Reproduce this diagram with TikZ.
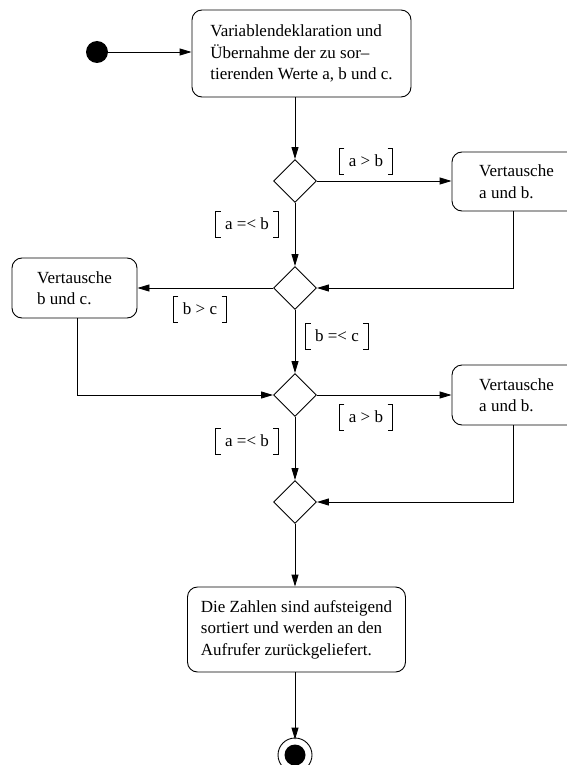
\documentclass[tikz,border=0pt]{standalone}
\usepackage{fontspec}
\setmainfont{Liberation Serif}
\usetikzlibrary{arrows.meta,shapes.geometric}
\begin{document}
\begin{tikzpicture}[x=1pt,y=-1pt,
  line width=0.9pt,
  every node/.style={font=\fontsize{17}{21.5}\selectfont},
  action/.style={draw,rounded corners=10pt,align=left,inner sep=0pt},
  decision/.style={draw,diamond,aspect=1,minimum width=43pt,minimum height=43pt,inner sep=0pt},
  guard/.style={inner xsep=9pt,inner ysep=0pt,minimum height=25pt,font=\fontsize{17}{20}\selectfont},
  arr/.style={-{Triangle[length=12pt,width=7pt]}}]
\useasboundingbox (0,0) rectangle (566,765);

% start and end
\node[circle,fill,inner sep=0pt,minimum size=22pt] (start) at (97,52) {};
\node[circle,draw,inner sep=0pt,minimum size=34pt] (end) at (295,755) {};
\fill (end) circle (10.5pt);

% actions
\node[action,minimum width=219pt,minimum height=87pt] (init) at (301.5,53.5)
  {Variablendeklaration und\\Übernahme der zu sor–\\tierenden Werte a, b und c.};
\node[action,minimum width=129pt,minimum height=59pt] (swapab1) at (516.5,181.5)
  {Vertausche\\a und b.};
\node[action,minimum width=125pt,minimum height=60pt] (swapbc) at (74.5,288)
  {Vertausche\\b und c.};
\node[action,minimum width=129pt,minimum height=60pt] (swapab2) at (516.5,395)
  {Vertausche\\a und b.};
\node[action,minimum width=218pt,minimum height=85pt] (done) at (296.5,629.5)
  {Die Zahlen sind aufsteigend\\sortiert und werden an den\\Aufrufer zurückgeliefert.};

% decisions
\node[decision] (d1) at (295,181) {};
\node[decision] (d2) at (295,288) {};
\node[decision] (d3) at (295,395) {};
\node[decision] (d4) at (295,502) {};

% guards
\node[guard] (g1) at (366,161) {a > b};
\node[guard] (g2) at (247,224) {a =< b};
\node[guard] (g3) at (200,309) {b > c};
\node[guard] (g4) at (337,336) {b =< c};
\node[guard] (g5) at (366,417) {a > b};
\node[guard] (g6) at (247,441) {a =< b};
\foreach \g in {g1,g2,g3,g4,g5,g6} {
  \draw[line width=0.7pt] ([xshift=5pt]\g.north west) -| (\g.south west) -- ++(5,0);
  \draw[line width=0.7pt] ([xshift=-5pt]\g.north east) -| (\g.south east) -- ++(-5,0);
}

% flows
\draw[arr] (start) -- (start -| init.west);
\draw[arr] (d1 |- init.south) -- (d1.north);
\draw[arr] (d1.east) -- (d1 -| swapab1.west);
\draw[arr] (d1.south) -- (d2.north);
\draw[arr] ([xshift=-3.5pt]swapab1.south) |- (d2.east);
\draw[arr] (d2.west) -- (d2 -| swapbc.east);
\draw[arr] (d2.south) -- (d3.north);
\draw[arr] ([xshift=2.5pt]swapbc.south) |- (d3.west);
\draw[arr] (d3.east) -- (d3 -| swapab2.west);
\draw[arr] (d3.south) -- (d4.north);
\draw[arr] ([xshift=-3.5pt]swapab2.south) |- (d4.east);
\draw[arr] (d4.south) -- (d4 |- done.north);
\draw[arr] (end |- done.south) -- ([yshift=-2pt]end.north);
\end{tikzpicture}
\end{document}
